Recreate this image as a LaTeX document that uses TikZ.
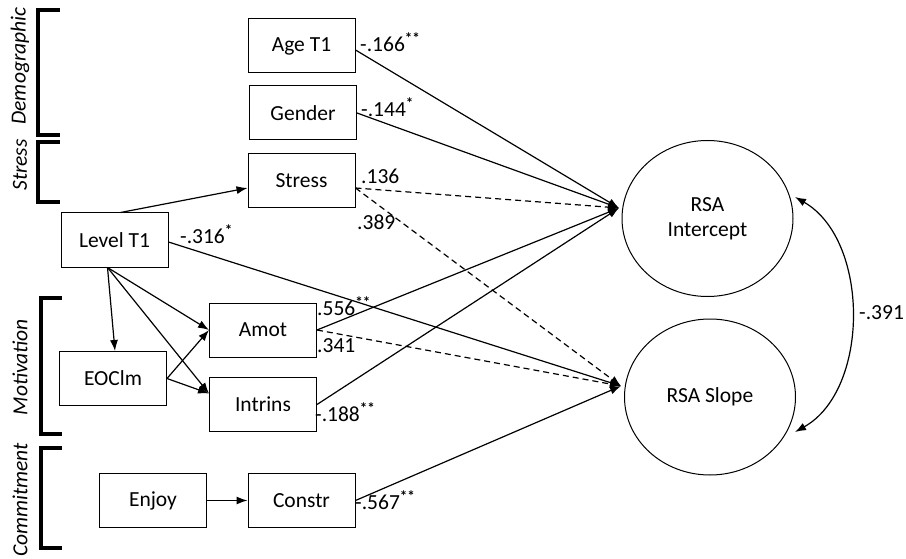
\documentclass[tikz,border=0pt]{standalone}
\usepackage{fontspec}
\setmainfont{Carlito}
\usetikzlibrary{arrows.meta,shapes.geometric}
\tikzset{
  varbox/.style={draw, line width=1pt, minimum width=107pt, minimum height=54pt, inner sep=0pt, font=\fontsize{21.5}{25}\selectfont},
  latent/.style={draw, line width=1pt, ellipse, minimum width=171pt, minimum height=156pt, inner sep=0pt, align=center, font=\fontsize{21.5}{25}\selectfont},
  path/.style={line width=1.2pt, -{Latex[length=11pt,width=8pt]}},
  npath/.style={path, dash pattern=on 6pt off 4pt},
  coef/.style={anchor=west, inner sep=0pt, font=\fontsize{21.5}{25}\selectfont},
  grp/.style={line width=3.5pt, line join=miter},
  grplab/.style={rotate=90, inner sep=0pt, font=\fontsize{21.5}{25}\selectfont\itshape}
}
\newcommand{\sig}[1]{\textsuperscript{\bfseries #1}}
\begin{document}
\begin{tikzpicture}[x=1pt, y=-1pt]
\useasboundingbox (0,0) rectangle (906,559);

% group brackets and their labels
\draw[grp] (60,10) -- (38,10) -- (38,135) -- (60,135);
\draw[grp] (60,142) -- (38,142) -- (38,202) -- (60,202);
\draw[grp] (62,298) -- (41,298) -- (41,434) -- (62,434);
\draw[grp] (62,448) -- (41,448) -- (41,548) -- (62,548);
\node[grplab] (gdemo) at (20,66) {Demographic};
\node[grplab] (gstress) at (20,165) {Stress};
\node[grplab] (gmot) at (20,367) {Motivation};
\node[grplab] (gcom) at (20,500) {Commitment};

% observed variables
\node[varbox] (age) at (301.5,46) {Age T1};
\node[varbox] (gender) at (303,113) {Gender};
\node[varbox] (stress) at (301.5,181) {Stress};
\node[varbox] (level) at (114.5,240) {Level T1};
\node[varbox] (amot) at (263,330) {Amot};
\node[varbox] (intr) at (263,404.5) {Intrins};
\node[varbox] (eoc) at (113,378.5) {EOClm};
\node[varbox] (enjoy) at (153,500.5) {Enjoy};
\node[varbox] (constr) at (301.5,500.5) {Constr};

% latent growth factors
\node[latent] (icpt) at (707.5,218.5) {RSA\\Intercept};
\node[latent] (slope) at (710,397) {RSA Slope};

% entry points of the regression paths
\coordinate (iin) at (619,208);
\coordinate (sin) at (621,386);
\coordinate (ctop) at (795,197);
\coordinate (cbot) at (795,432);

% paths among the predictors
\draw[path] ([xshift=6pt]level.north) -- ([yshift=-7pt]stress.west);
\draw[path] ([xshift=-7pt]level.south) -- ([xshift=2pt]eoc.north);
\draw[path] ([xshift=-7pt]level.south) -- (amot.west);
\draw[path] ([xshift=-7pt]level.south) -- ([yshift=11pt]intr.west);
\draw[path] (eoc.east) -- (amot.west);
\draw[path] (eoc.east) -- ([yshift=11pt]intr.west);
\draw[path] (enjoy.east) -- (constr.west);

% paths to the intercept
\draw[path] ([yshift=-4pt]age.east) -- (iin);
\draw[path] (gender.east) -- (iin);
\draw[npath] ([yshift=-7pt]stress.east) -- (iin);
\draw[path] (amot.east) -- (iin);
\draw[path] (intr.east) -- (iin);

% paths to the slope
\draw[npath] ([yshift=-7pt]stress.east) -- (sin);
\draw[path] ([yshift=-2pt]level.east) -- (sin);
\draw[npath] (amot.east) -- (sin);
\draw[path] (constr.east) -- (sin);

% covariance of the growth factors
\draw[line width=1.2pt, {Latex[length=11pt,width=8pt]}-{Latex[length=11pt,width=8pt]}]
  (ctop) .. controls (870,240) and (870,390) .. (cbot);

% estimates
\node[coef] (c1) at (360,42) {-.166\sig{**}};
\node[coef] (c2) at (361,107) {-.144\sig{*}};
\node[coef] (c3) at (361,176) {.136};
\node[coef] (c4) at (357,222) {.389};
\node[coef] (c5) at (180,234) {-.316\sig{*}};
\node[coef] (c6) at (317,306) {.556\sig{**}};
\node[coef] (c7) at (317,346) {.341};
\node[coef] (c8) at (315,412) {-.188\sig{**}};
\node[coef] (c9) at (355,500) {-.567\sig{**}};
\node[coef] (c10) at (859,313) {-.391};
\end{tikzpicture}
\end{document}
